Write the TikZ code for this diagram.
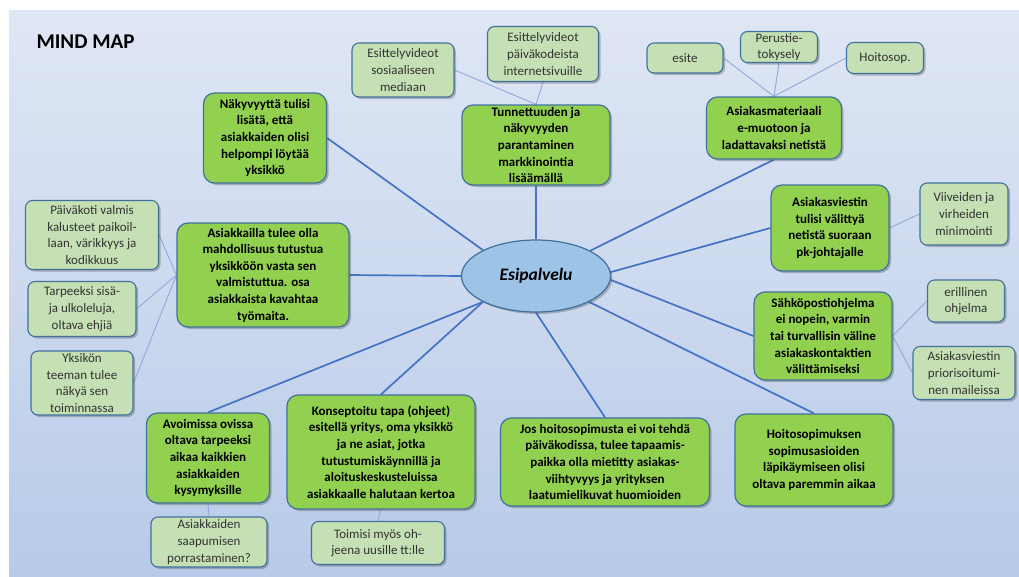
\documentclass[tikz,border=0pt]{standalone}
\usepackage{fontspec}
\setmainfont{Carlito}
\usetikzlibrary{shapes.geometric,shadows}
\pgfdeclarelayer{background}
\pgfsetlayers{background,main}
\definecolor{bgtop}{HTML}{F3F5FB}
\definecolor{bgdark}{HTML}{AEC3E5}
\definecolor{bgbot}{HTML}{C5D5EC}
\definecolor{maingreen}{HTML}{92D050}
\definecolor{leafgreen}{HTML}{C5E0B4}
\definecolor{boxborder}{HTML}{41719C}
\definecolor{centerfill}{HTML}{9DC3E6}
\definecolor{mainline}{HTML}{4472C4}
\definecolor{leafline}{HTML}{8FAADC}
\definecolor{leaftext}{HTML}{333333}
\pgfdeclareverticalshading{bgshade}{100bp}{color(0bp)=(bgbot); color(12bp)=(bgdark); color(100bp)=(bgtop)}
\tikzset{
  boxshadow/.style={drop shadow={shadow xshift=2pt, shadow yshift=-2pt, opacity=0.35, fill=black!70}},
  mainbox/.style={draw=boxborder, line width=1.2pt, fill=maingreen, rounded corners=11pt,
    align=center, inner sep=0pt, font=\fontsize{13}{16.6}\selectfont\bfseries, text=black, boxshadow},
  leafbox/.style={draw=boxborder, line width=1.1pt, fill=leafgreen, rounded corners=7pt,
    align=center, inner sep=0pt, font=\fontsize{13}{16.6}\selectfont, text=leaftext, boxshadow},
  centerbox/.style={ellipse, draw=boxborder, line width=1.2pt, fill=centerfill, inner sep=0pt,
    minimum width=149pt, minimum height=72pt, font=\fontsize{17.5}{20}\selectfont\bfseries\itshape, boxshadow},
  mainconn/.style={draw=mainline, line width=1.7pt},
  leafconn/.style={draw=leafline, line width=0.9pt},
  sz/.style 2 args={minimum width=#1pt, minimum height=#2pt},
}
\begin{document}
\begin{tikzpicture}[x=1pt,y=-1pt]
\useasboundingbox (0,0) rectangle (1019,576);
\begin{pgfonlayer}{background}
\shade[shading=bgshade] (9,10) rectangle (1019,576);
\end{pgfonlayer}

\node[anchor=west, font=\fontsize{21}{24}\selectfont\bfseries] (title) at (33,42) {MIND MAP};

\node[centerbox] (c) at (536,276) {Esipalvelu};

% main nodes
\node[mainbox, sz={123}{90}] (n1) at (265,138) {Näkyvyyttä tulisi\\lisätä, että\\asiakkaiden olisi\\helpompi löytää\\yksikkö};
\node[mainbox, sz={148}{80}] (n2) at (536,145) {Tunnettuuden ja\\näkyvyyden\\parantaminen\\markkinointia\\lisäämällä};
\node[mainbox, sz={135}{62}] (n3) at (774,128) {Asiakasmateriaali\\e-muotoon ja\\ladattavaksi netistä};
\node[mainbox, sz={118}{86}] (n4) at (830,228) {Asiakasviestin\\tulisi välittyä\\netistä suoraan\\pk-johtajalle};
\node[mainbox, sz={138}{88}] (n5) at (823,336) {Sähköpostiohjelma\\ei nopein, varmin\\tai turvallisin väline\\asiakaskontaktien\\välittämiseksi};
\node[mainbox, sz={158}{92}] (n6) at (814,460) {Hoitosopimuksen\\sopimusasioiden\\läpikäymiseen olisi\\oltava paremmin aikaa};
\node[mainbox, sz={209}{88}] (n7) at (605,462) {Jos hoitosopimusta ei voi tehdä\\päiväkodissa, tulee tapaamis-\\paikka olla mietitty asiakas-\\viihtyvyys ja yrityksen\\laatumielikuvat huomioiden};
\node[mainbox, sz={188}{114}] (n8) at (381,452) {Konseptoitu tapa (ohjeet)\\esitellä yritys, oma yksikkö\\ja ne asiat, jotka\\tutustumiskäynnillä ja\\aloituskeskusteluissa\\asiakkaalle halutaan kertoa};
\node[mainbox, sz={123}{90}] (n9) at (208,458) {Avoimissa ovissa\\oltava tarpeeksi\\aikaa kaikkien\\asiakkaiden\\kysymyksille};
\node[mainbox, sz={172}{104}] (n10) at (263,275) {Asiakkailla tulee olla\\mahdollisuus tutustua\\yksikköön vasta sen\\valmistuttua. osa\\asiakkaista kavahtaa\\työmaita.};

% leaf nodes
\node[leafbox, sz={102}{54}] (la) at (403,70) {Esittelyvideot\\sosiaaliseen\\mediaan};
\node[leafbox, sz={111}{55}] (lb) at (543,54) {Esittelyvideot\\päiväkodeista\\internetsivuille};
\node[leafbox, sz={76}{30}] (lc) at (685,58) {esite};
\node[leafbox, sz={77}{31}] (ld) at (779,47) {Perustie-\\tokysely};
\node[leafbox, sz={77}{31}] (le) at (885,58) {Hoitosop.};
\node[leafbox, sz={88}{62}] (lf) at (964,214) {Viiveiden ja\\virheiden\\minimointi};
\node[leafbox, sz={77}{42}] (lg) at (966,301) {erillinen\\ohjelma};
\node[leafbox, sz={102}{53}] (lh) at (964,373) {Asiakasviestin\\priorisoitumi-\\nen maileissa};
\node[leafbox, sz={133}{43}] (li) at (378,543) {Toimisi myös oh-\\jeena uusille tt:lle};
\node[leafbox, sz={116}{50}] (lj) at (209,542) {Asiakkaiden\\saapumisen\\porrastaminen?};
\node[leafbox, sz={133}{69}] (lk) at (92,235) {Päiväkoti valmis\\kalusteet paikoil-\\laan, värikkyys ja\\kodikkuus};
\node[leafbox, sz={108}{55}] (ll) at (82,309) {Tarpeeksi sisä-\\ja ulkoleluja,\\oltava ehjiä};
\node[leafbox, sz={102}{64}] (lm) at (82,383) {Yksikön\\teeman tulee\\näkyä sen\\toiminnassa};

\begin{pgfonlayer}{background}
% main connectors
\draw[mainconn] (n1.east) -- (c.154);
\draw[mainconn] (n2.south) -- (c.north);
\draw[mainconn] (n3.south) -- (c.25);
\draw[mainconn] (n4.west) -- (c.3);
\draw[mainconn] (c.-3) -- (n5.west);
\draw[mainconn] (c.-26) -- (n6.north);
\draw[mainconn] (c.south) -- (n7.north);
\draw[mainconn] (c.206) -- (n8.north);
\draw[mainconn] (c.206) -- (n9.north);
\draw[mainconn] (n10.east) -- (c.west);
% leaf connectors
\draw[leafconn] (la.east) -- (n2.north);
\draw[leafconn] (lb.south) -- (n2.north);
\draw[leafconn] (lc.east) -- (n3.north);
\draw[leafconn] (ld.south) -- (n3.north);
\draw[leafconn] (le.west) -- (n3.north);
\draw[leafconn] (lf.west) -- (n4.east);
\draw[leafconn] (lg.west) -- (n5.east);
\draw[leafconn] (lh.west) -- (n5.east);
\draw[leafconn] (li.north) -- (n8.south);
\draw[leafconn] (lj.north) -- (n9.south);
\draw[leafconn] (lk.east) -- (n10.west);
\draw[leafconn] (ll.east) -- (n10.west);
\draw[leafconn] (lm.east) -- (n10.west);
\end{pgfonlayer}
\end{tikzpicture}
\end{document}
